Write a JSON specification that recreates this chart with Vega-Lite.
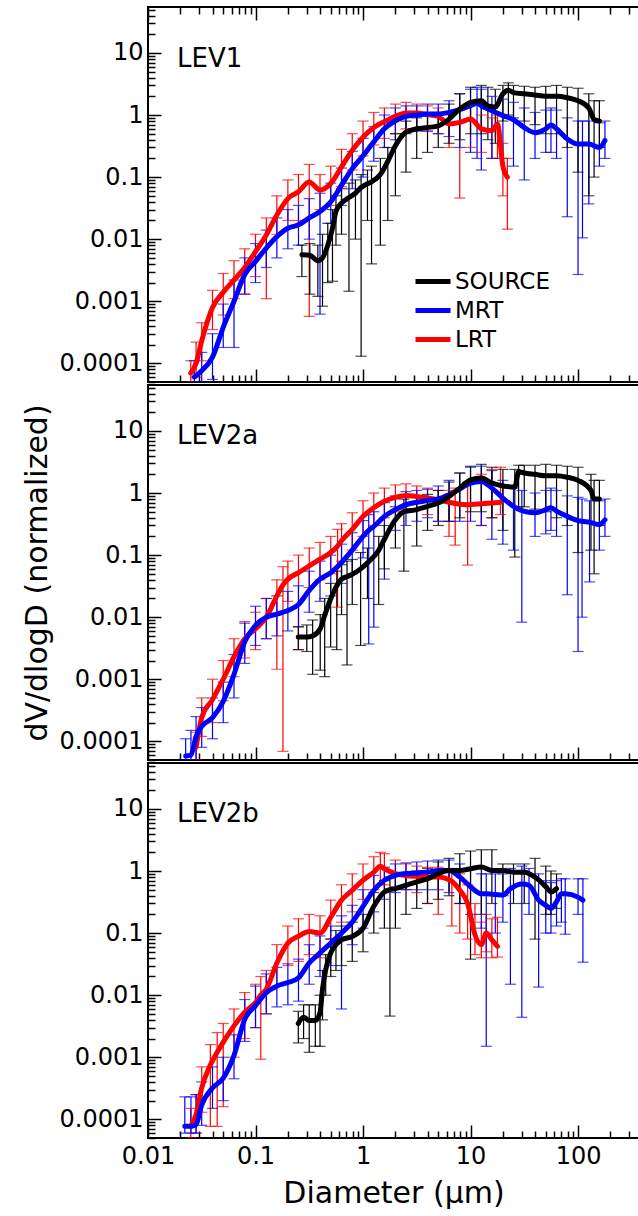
{
  "$schema": "https://vega.github.io/schema/vega-lite/v6.json",
  "padding": {"left": 21, "top": 5, "right": 0, "bottom": 0},
  "background": "white",
  "config": {
    "font": "DejaVu Sans",
    "view": {"stroke": "black", "strokeWidth": 2},
    "axis": {"grid": false, "domain": false, "tickColor": "black", "tickWidth": 1.5, "labelColor": "black", "titleColor": "black", "labelFont": "DejaVu Sans", "titleFont": "DejaVu Sans"}
  },
  "datasets": {
    "d": [
      {"p":"LEV1","s":"LRT","d":0.025,"v":7e-5,"lo":5e-5,"hi":1.1e-4},
      {"p":"LEV1","s":"LRT","d":0.028,"v":1.0e-4,"lo":6e-5,"hi":2.2e-4},
      {"p":"LEV1","s":"LRT","d":0.0316,"v":2.3e-4,"lo":1.1e-4,"hi":4.5e-4},
      {"p":"LEV1","s":"LRT","d":0.0398,"v":7.9e-4,"lo":3.5e-4,"hi":1.5e-3},
      {"p":"LEV1","s":"LRT","d":0.0501,"v":1.4e-3,"lo":6e-4,"hi":2.8e-3},
      {"p":"LEV1","s":"LRT","d":0.0631,"v":2.2e-3,"lo":1.1e-3,"hi":4.5e-3},
      {"p":"LEV1","s":"LRT","d":0.0794,"v":3.5e-3,"lo":1.3e-3,"hi":7e-3},
      {"p":"LEV1","s":"LRT","d":0.1,"v":6.3e-3,"lo":2.5e-3,"hi":0.012},
      {"p":"LEV1","s":"LRT","d":0.126,"v":0.0117,"lo":1.1e-3,"hi":0.022},
      {"p":"LEV1","s":"LRT","d":0.158,"v":0.0245,"lo":0.012,"hi":0.05},
      {"p":"LEV1","s":"LRT","d":0.2,"v":0.045,"lo":0.02,"hi":0.09},
      {"p":"LEV1","s":"LRT","d":0.251,"v":0.058,"lo":0.02,"hi":0.11},
      {"p":"LEV1","s":"LRT","d":0.316,"v":0.083,"lo":5.7e-4,"hi":0.16},
      {"p":"LEV1","s":"LRT","d":0.398,"v":0.062,"lo":0.03,"hi":0.11},
      {"p":"LEV1","s":"LRT","d":0.501,"v":0.079,"lo":0.035,"hi":0.15},
      {"p":"LEV1","s":"LRT","d":0.631,"v":0.146,"lo":0.07,"hi":0.28},
      {"p":"LEV1","s":"LRT","d":0.794,"v":0.27,"lo":0.13,"hi":0.5},
      {"p":"LEV1","s":"LRT","d":1,"v":0.44,"lo":0.22,"hi":0.8},
      {"p":"LEV1","s":"LRT","d":1.26,"v":0.63,"lo":0.33,"hi":1.1},
      {"p":"LEV1","s":"LRT","d":1.58,"v":0.78,"lo":0.42,"hi":1.3},
      {"p":"LEV1","s":"LRT","d":2.0,"v":0.95,"lo":0.5,"hi":1.5},
      {"p":"LEV1","s":"LRT","d":2.51,"v":1.08,"lo":0.6,"hi":1.6},
      {"p":"LEV1","s":"LRT","d":3.16,"v":1.08,"lo":0.6,"hi":1.5},
      {"p":"LEV1","s":"LRT","d":3.98,"v":1.02,"lo":0.55,"hi":1.4},
      {"p":"LEV1","s":"LRT","d":5.01,"v":0.95,"lo":0.5,"hi":1.3},
      {"p":"LEV1","s":"LRT","d":6.31,"v":0.72,"lo":0.3,"hi":1.1},
      {"p":"LEV1","s":"LRT","d":7.94,"v":0.76,"lo":0.046,"hi":1.2},
      {"p":"LEV1","s":"LRT","d":10,"v":0.86,"lo":0.3,"hi":1.4},
      {"p":"LEV1","s":"LRT","d":12.6,"v":0.6,"lo":0.25,"hi":1.0},
      {"p":"LEV1","s":"LRT","d":15.8,"v":0.56,"lo":0.2,"hi":0.9},
      {"p":"LEV1","s":"LRT","d":17.8,"v":0.72,"lo":0.2,"hi":1.0},
      {"p":"LEV1","s":"LRT","d":20,"v":0.15,"lo":0.05,"hi":0.35},
      {"p":"LEV1","s":"LRT","d":22,"v":0.1,"lo":0.0145,"hi":0.2},

      {"p":"LEV1","s":"MRT","d":0.027,"v":6e-5,"lo":5e-5,"hi":1.1e-4},
      {"p":"LEV1","s":"MRT","d":0.0316,"v":7.6e-5,"lo":5e-5,"hi":1.5e-4},
      {"p":"LEV1","s":"MRT","d":0.0398,"v":1.26e-4,"lo":5.5e-5,"hi":3e-4},
      {"p":"LEV1","s":"MRT","d":0.0501,"v":3.8e-4,"lo":1.8e-4,"hi":9e-4},
      {"p":"LEV1","s":"MRT","d":0.0631,"v":1e-3,"lo":1.8e-4,"hi":2.2e-3},
      {"p":"LEV1","s":"MRT","d":0.0794,"v":2.7e-3,"lo":1.3e-3,"hi":5e-3},
      {"p":"LEV1","s":"MRT","d":0.1,"v":4.4e-3,"lo":2e-3,"hi":8.5e-3},
      {"p":"LEV1","s":"MRT","d":0.126,"v":7.2e-3,"lo":3.5e-3,"hi":0.014},
      {"p":"LEV1","s":"MRT","d":0.158,"v":0.011,"lo":5e-3,"hi":0.022},
      {"p":"LEV1","s":"MRT","d":0.2,"v":0.015,"lo":7e-3,"hi":0.03},
      {"p":"LEV1","s":"MRT","d":0.251,"v":0.017,"lo":8e-3,"hi":0.035},
      {"p":"LEV1","s":"MRT","d":0.316,"v":0.022,"lo":0.01,"hi":0.045},
      {"p":"LEV1","s":"MRT","d":0.398,"v":0.028,"lo":6.2e-4,"hi":0.055},
      {"p":"LEV1","s":"MRT","d":0.501,"v":0.04,"lo":0.018,"hi":0.08},
      {"p":"LEV1","s":"MRT","d":0.631,"v":0.074,"lo":0.035,"hi":0.14},
      {"p":"LEV1","s":"MRT","d":0.794,"v":0.137,"lo":0.065,"hi":0.26},
      {"p":"LEV1","s":"MRT","d":1,"v":0.22,"lo":0.1,"hi":0.42},
      {"p":"LEV1","s":"MRT","d":1.26,"v":0.37,"lo":0.18,"hi":0.65},
      {"p":"LEV1","s":"MRT","d":1.58,"v":0.6,"lo":0.3,"hi":1.0},
      {"p":"LEV1","s":"MRT","d":2.0,"v":0.81,"lo":0.4,"hi":1.3},
      {"p":"LEV1","s":"MRT","d":2.51,"v":0.95,"lo":0.5,"hi":1.4},
      {"p":"LEV1","s":"MRT","d":3.16,"v":1.0,"lo":0.55,"hi":1.4},
      {"p":"LEV1","s":"MRT","d":3.98,"v":1.04,"lo":0.55,"hi":1.5},
      {"p":"LEV1","s":"MRT","d":5.01,"v":1.04,"lo":0.5,"hi":1.5},
      {"p":"LEV1","s":"MRT","d":6.31,"v":1.1,"lo":0.45,"hi":1.7},
      {"p":"LEV1","s":"MRT","d":7.94,"v":1.22,"lo":0.3,"hi":2.2},
      {"p":"LEV1","s":"MRT","d":10,"v":1.41,"lo":0.25,"hi":2.6},
      {"p":"LEV1","s":"MRT","d":11.5,"v":1.56,"lo":0.2,"hi":2.8},
      {"p":"LEV1","s":"MRT","d":12.6,"v":1.41,"lo":0.13,"hi":2.6},
      {"p":"LEV1","s":"MRT","d":15.8,"v":1.17,"lo":0.2,"hi":2.0},
      {"p":"LEV1","s":"MRT","d":20,"v":0.98,"lo":0.2,"hi":1.8},
      {"p":"LEV1","s":"MRT","d":25.1,"v":0.84,"lo":0.15,"hi":1.6},
      {"p":"LEV1","s":"MRT","d":31.6,"v":0.63,"lo":0.09,"hi":1.3},
      {"p":"LEV1","s":"MRT","d":39.8,"v":0.52,"lo":0.2,"hi":1.1},
      {"p":"LEV1","s":"MRT","d":50.1,"v":0.6,"lo":0.25,"hi":1.2},
      {"p":"LEV1","s":"MRT","d":56,"v":0.69,"lo":0.25,"hi":1.3},
      {"p":"LEV1","s":"MRT","d":63.1,"v":0.6,"lo":0.2,"hi":1.2},
      {"p":"LEV1","s":"MRT","d":79.4,"v":0.41,"lo":0.023,"hi":0.9},
      {"p":"LEV1","s":"MRT","d":100,"v":0.34,"lo":2.7e-3,"hi":0.8},
      {"p":"LEV1","s":"MRT","d":110,"v":0.34,"lo":0.0105,"hi":0.8},
      {"p":"LEV1","s":"MRT","d":126,"v":0.34,"lo":0.037,"hi":0.8},
      {"p":"LEV1","s":"MRT","d":158,"v":0.3,"lo":0.15,"hi":0.75},
      {"p":"LEV1","s":"MRT","d":178,"v":0.39,"lo":0.2,"hi":0.8},

      {"p":"LEV1","s":"SOURCE","d":0.27,"v":5.6e-3,"lo":2.5e-3,"hi":8e-3},
      {"p":"LEV1","s":"SOURCE","d":0.32,"v":5.5e-3,"lo":1.3e-3,"hi":8.5e-3},
      {"p":"LEV1","s":"SOURCE","d":0.38,"v":4.5e-3,"lo":1.2e-3,"hi":8e-3},
      {"p":"LEV1","s":"SOURCE","d":0.42,"v":5e-3,"lo":8.3e-4,"hi":0.012},
      {"p":"LEV1","s":"SOURCE","d":0.47,"v":8e-3,"lo":2e-3,"hi":0.018},
      {"p":"LEV1","s":"SOURCE","d":0.52,"v":0.015,"lo":2.1e-3,"hi":0.03},
      {"p":"LEV1","s":"SOURCE","d":0.56,"v":0.028,"lo":8e-3,"hi":0.05},
      {"p":"LEV1","s":"SOURCE","d":0.631,"v":0.038,"lo":0.012,"hi":0.065},
      {"p":"LEV1","s":"SOURCE","d":0.74,"v":0.047,"lo":1.45e-3,"hi":0.08},
      {"p":"LEV1","s":"SOURCE","d":0.85,"v":0.055,"lo":0.01,"hi":0.09},
      {"p":"LEV1","s":"SOURCE","d":0.96,"v":0.068,"lo":1.3e-4,"hi":0.11},
      {"p":"LEV1","s":"SOURCE","d":1.1,"v":0.078,"lo":0.02,"hi":0.13},
      {"p":"LEV1","s":"SOURCE","d":1.2,"v":0.084,"lo":4e-3,"hi":0.15},
      {"p":"LEV1","s":"SOURCE","d":1.45,"v":0.11,"lo":8e-3,"hi":0.2},
      {"p":"LEV1","s":"SOURCE","d":1.7,"v":0.18,"lo":0.02,"hi":0.3},
      {"p":"LEV1","s":"SOURCE","d":2.0,"v":0.32,"lo":0.05,"hi":0.5},
      {"p":"LEV1","s":"SOURCE","d":2.51,"v":0.53,"lo":0.12,"hi":0.8},
      {"p":"LEV1","s":"SOURCE","d":3.16,"v":0.6,"lo":0.2,"hi":0.9},
      {"p":"LEV1","s":"SOURCE","d":3.98,"v":0.63,"lo":0.25,"hi":1.0},
      {"p":"LEV1","s":"SOURCE","d":5.01,"v":0.67,"lo":0.3,"hi":1.1},
      {"p":"LEV1","s":"SOURCE","d":6.31,"v":0.86,"lo":0.35,"hi":1.5},
      {"p":"LEV1","s":"SOURCE","d":7.94,"v":1.25,"lo":0.4,"hi":2.2},
      {"p":"LEV1","s":"SOURCE","d":10,"v":1.6,"lo":0.5,"hi":2.8},
      {"p":"LEV1","s":"SOURCE","d":12.6,"v":1.7,"lo":0.5,"hi":3.0},
      {"p":"LEV1","s":"SOURCE","d":14.5,"v":1.4,"lo":0.4,"hi":2.8},
      {"p":"LEV1","s":"SOURCE","d":17,"v":1.35,"lo":0.35,"hi":2.6},
      {"p":"LEV1","s":"SOURCE","d":20,"v":2.2,"lo":0.8,"hi":3.0},
      {"p":"LEV1","s":"SOURCE","d":22.5,"v":2.5,"lo":1.0,"hi":3.3},
      {"p":"LEV1","s":"SOURCE","d":25.1,"v":2.3,"lo":0.9,"hi":3.0},
      {"p":"LEV1","s":"SOURCE","d":31.6,"v":2.2,"lo":0.8,"hi":2.9},
      {"p":"LEV1","s":"SOURCE","d":39.8,"v":2.1,"lo":0.7,"hi":2.8},
      {"p":"LEV1","s":"SOURCE","d":50.1,"v":2.0,"lo":0.5,"hi":2.9},
      {"p":"LEV1","s":"SOURCE","d":63.1,"v":2.0,"lo":0.5,"hi":3.0},
      {"p":"LEV1","s":"SOURCE","d":79.4,"v":1.9,"lo":0.3,"hi":2.8},
      {"p":"LEV1","s":"SOURCE","d":100,"v":1.7,"lo":0.12,"hi":2.7},
      {"p":"LEV1","s":"SOURCE","d":126,"v":1.3,"lo":0.05,"hi":2.2},
      {"p":"LEV1","s":"SOURCE","d":141,"v":0.85,"lo":0.1,"hi":1.7},
      {"p":"LEV1","s":"SOURCE","d":158,"v":0.8,"lo":0.3,"hi":1.7},

      {"p":"LEV2a","s":"LRT","d":0.028,"v":8e-5,"lo":5e-5,"hi":1.4e-4},
      {"p":"LEV2a","s":"LRT","d":0.0316,"v":2.4e-4,"lo":1.2e-4,"hi":5e-4},
      {"p":"LEV2a","s":"LRT","d":0.0398,"v":4.7e-4,"lo":2e-4,"hi":1e-3},
      {"p":"LEV2a","s":"LRT","d":0.0501,"v":1.0e-3,"lo":4.5e-4,"hi":2e-3},
      {"p":"LEV2a","s":"LRT","d":0.0631,"v":2.3e-3,"lo":1.1e-3,"hi":4.5e-3},
      {"p":"LEV2a","s":"LRT","d":0.0794,"v":4.5e-3,"lo":2.2e-3,"hi":8.5e-3},
      {"p":"LEV2a","s":"LRT","d":0.1,"v":6.5e-3,"lo":3e-3,"hi":0.012},
      {"p":"LEV2a","s":"LRT","d":0.126,"v":0.01,"lo":4.5e-3,"hi":0.02},
      {"p":"LEV2a","s":"LRT","d":0.158,"v":0.022,"lo":1.45e-3,"hi":0.04},
      {"p":"LEV2a","s":"LRT","d":0.18,"v":0.033,"lo":6.9e-5,"hi":0.065},
      {"p":"LEV2a","s":"LRT","d":0.2,"v":0.041,"lo":0.018,"hi":0.08},
      {"p":"LEV2a","s":"LRT","d":0.251,"v":0.052,"lo":3e-3,"hi":0.1},
      {"p":"LEV2a","s":"LRT","d":0.316,"v":0.067,"lo":0.03,"hi":0.13},
      {"p":"LEV2a","s":"LRT","d":0.398,"v":0.086,"lo":0.04,"hi":0.16},
      {"p":"LEV2a","s":"LRT","d":0.501,"v":0.11,"lo":0.05,"hi":0.2},
      {"p":"LEV2a","s":"LRT","d":0.58,"v":0.14,"lo":0.0145,"hi":0.26},
      {"p":"LEV2a","s":"LRT","d":0.631,"v":0.17,"lo":0.08,"hi":0.32},
      {"p":"LEV2a","s":"LRT","d":0.794,"v":0.26,"lo":0.12,"hi":0.48},
      {"p":"LEV2a","s":"LRT","d":1,"v":0.42,"lo":0.2,"hi":0.75},
      {"p":"LEV2a","s":"LRT","d":1.26,"v":0.58,"lo":0.3,"hi":1.0},
      {"p":"LEV2a","s":"LRT","d":1.58,"v":0.74,"lo":0.4,"hi":1.2},
      {"p":"LEV2a","s":"LRT","d":2.0,"v":0.85,"lo":0.5,"hi":1.35},
      {"p":"LEV2a","s":"LRT","d":2.51,"v":0.91,"lo":0.55,"hi":1.4},
      {"p":"LEV2a","s":"LRT","d":3.16,"v":0.88,"lo":0.55,"hi":1.3},
      {"p":"LEV2a","s":"LRT","d":3.98,"v":0.83,"lo":0.45,"hi":1.2},
      {"p":"LEV2a","s":"LRT","d":5.01,"v":0.78,"lo":0.35,"hi":1.1},
      {"p":"LEV2a","s":"LRT","d":6.31,"v":0.71,"lo":0.2,"hi":1.1},
      {"p":"LEV2a","s":"LRT","d":7.2,"v":0.68,"lo":0.145,"hi":1.2},
      {"p":"LEV2a","s":"LRT","d":9.4,"v":0.65,"lo":0.069,"hi":1.5},
      {"p":"LEV2a","s":"LRT","d":12.6,"v":0.67,"lo":0.3,"hi":2.0},
      {"p":"LEV2a","s":"LRT","d":15.8,"v":0.69,"lo":0.4,"hi":2.4},
      {"p":"LEV2a","s":"LRT","d":19,"v":0.71,"lo":0.45,"hi":2.6},

      {"p":"LEV2a","s":"MRT","d":0.0224,"v":5.8e-5,"lo":5e-5,"hi":1.1e-4},
      {"p":"LEV2a","s":"MRT","d":0.0251,"v":6e-5,"lo":5e-5,"hi":1.5e-4},
      {"p":"LEV2a","s":"MRT","d":0.028,"v":1.2e-4,"lo":5e-5,"hi":2.5e-4},
      {"p":"LEV2a","s":"MRT","d":0.0316,"v":1.74e-4,"lo":8e-5,"hi":3.5e-4},
      {"p":"LEV2a","s":"MRT","d":0.0398,"v":2.4e-4,"lo":1.1e-4,"hi":5e-4},
      {"p":"LEV2a","s":"MRT","d":0.0501,"v":4.4e-4,"lo":2e-4,"hi":9e-4},
      {"p":"LEV2a","s":"MRT","d":0.0631,"v":1.2e-3,"lo":5e-4,"hi":2.5e-3},
      {"p":"LEV2a","s":"MRT","d":0.0794,"v":4e-3,"lo":1.8e-3,"hi":8e-3},
      {"p":"LEV2a","s":"MRT","d":0.1,"v":7.4e-3,"lo":3.5e-3,"hi":0.015},
      {"p":"LEV2a","s":"MRT","d":0.126,"v":0.01,"lo":4.5e-3,"hi":0.02},
      {"p":"LEV2a","s":"MRT","d":0.158,"v":0.0112,"lo":5e-3,"hi":0.022},
      {"p":"LEV2a","s":"MRT","d":0.2,"v":0.0128,"lo":6e-3,"hi":0.026},
      {"p":"LEV2a","s":"MRT","d":0.251,"v":0.016,"lo":7e-3,"hi":0.032},
      {"p":"LEV2a","s":"MRT","d":0.316,"v":0.027,"lo":0.012,"hi":0.055},
      {"p":"LEV2a","s":"MRT","d":0.398,"v":0.041,"lo":0.018,"hi":0.08},
      {"p":"LEV2a","s":"MRT","d":0.501,"v":0.052,"lo":0.022,"hi":0.1},
      {"p":"LEV2a","s":"MRT","d":0.631,"v":0.076,"lo":0.035,"hi":0.15},
      {"p":"LEV2a","s":"MRT","d":0.794,"v":0.12,"lo":0.05,"hi":0.23},
      {"p":"LEV2a","s":"MRT","d":1,"v":0.2,"lo":0.09,"hi":0.36},
      {"p":"LEV2a","s":"MRT","d":1.13,"v":0.25,"lo":3.7e-3,"hi":0.45},
      {"p":"LEV2a","s":"MRT","d":1.26,"v":0.29,"lo":6.9e-3,"hi":0.5},
      {"p":"LEV2a","s":"MRT","d":1.58,"v":0.42,"lo":0.041,"hi":0.7},
      {"p":"LEV2a","s":"MRT","d":2.0,"v":0.54,"lo":0.25,"hi":0.9},
      {"p":"LEV2a","s":"MRT","d":2.51,"v":0.65,"lo":0.3,"hi":1.05},
      {"p":"LEV2a","s":"MRT","d":3.16,"v":0.71,"lo":0.35,"hi":1.1},
      {"p":"LEV2a","s":"MRT","d":3.98,"v":0.76,"lo":0.4,"hi":1.15},
      {"p":"LEV2a","s":"MRT","d":5.01,"v":0.8,"lo":0.35,"hi":1.3},
      {"p":"LEV2a","s":"MRT","d":6.31,"v":0.94,"lo":0.35,"hi":1.6},
      {"p":"LEV2a","s":"MRT","d":7.94,"v":1.16,"lo":0.35,"hi":2.1},
      {"p":"LEV2a","s":"MRT","d":10,"v":1.45,"lo":0.35,"hi":2.6},
      {"p":"LEV2a","s":"MRT","d":12.6,"v":1.54,"lo":0.3,"hi":2.7},
      {"p":"LEV2a","s":"MRT","d":15.8,"v":1.2,"lo":0.18,"hi":2.3},
      {"p":"LEV2a","s":"MRT","d":20,"v":0.83,"lo":0.15,"hi":1.6},
      {"p":"LEV2a","s":"MRT","d":25.1,"v":0.61,"lo":0.12,"hi":1.2},
      {"p":"LEV2a","s":"MRT","d":30,"v":0.52,"lo":8.3e-3,"hi":1.1},
      {"p":"LEV2a","s":"MRT","d":39.8,"v":0.48,"lo":0.2,"hi":1.0},
      {"p":"LEV2a","s":"MRT","d":50.1,"v":0.54,"lo":0.22,"hi":1.1},
      {"p":"LEV2a","s":"MRT","d":56,"v":0.58,"lo":0.25,"hi":1.2},
      {"p":"LEV2a","s":"MRT","d":63.1,"v":0.51,"lo":0.2,"hi":1.1},
      {"p":"LEV2a","s":"MRT","d":79.4,"v":0.42,"lo":0.023,"hi":0.9},
      {"p":"LEV2a","s":"MRT","d":100,"v":0.36,"lo":2.8e-3,"hi":0.85},
      {"p":"LEV2a","s":"MRT","d":109,"v":0.35,"lo":0.01,"hi":0.8},
      {"p":"LEV2a","s":"MRT","d":128,"v":0.34,"lo":0.037,"hi":0.75},
      {"p":"LEV2a","s":"MRT","d":158,"v":0.31,"lo":0.12,"hi":0.75},
      {"p":"LEV2a","s":"MRT","d":178,"v":0.37,"lo":0.2,"hi":0.8},

      {"p":"LEV2a","s":"SOURCE","d":0.25,"v":4.8e-3,"lo":3e-3,"hi":7e-3},
      {"p":"LEV2a","s":"SOURCE","d":0.3,"v":4.8e-3,"lo":2.8e-3,"hi":7.5e-3},
      {"p":"LEV2a","s":"SOURCE","d":0.34,"v":5e-3,"lo":1.2e-3,"hi":9e-3},
      {"p":"LEV2a","s":"SOURCE","d":0.4,"v":6.5e-3,"lo":1.4e-3,"hi":0.011},
      {"p":"LEV2a","s":"SOURCE","d":0.44,"v":0.0107,"lo":1.1e-3,"hi":0.02},
      {"p":"LEV2a","s":"SOURCE","d":0.5,"v":0.0196,"lo":3.3e-3,"hi":0.035},
      {"p":"LEV2a","s":"SOURCE","d":0.57,"v":0.032,"lo":3e-3,"hi":0.055},
      {"p":"LEV2a","s":"SOURCE","d":0.631,"v":0.041,"lo":0.011,"hi":0.07},
      {"p":"LEV2a","s":"SOURCE","d":0.71,"v":0.045,"lo":1.7e-3,"hi":0.08},
      {"p":"LEV2a","s":"SOURCE","d":0.794,"v":0.049,"lo":0.016,"hi":0.085},
      {"p":"LEV2a","s":"SOURCE","d":0.95,"v":0.06,"lo":3.5e-3,"hi":0.11},
      {"p":"LEV2a","s":"SOURCE","d":1.1,"v":0.075,"lo":0.02,"hi":0.13},
      {"p":"LEV2a","s":"SOURCE","d":1.4,"v":0.12,"lo":0.016,"hi":0.2},
      {"p":"LEV2a","s":"SOURCE","d":1.58,"v":0.18,"lo":0.06,"hi":0.3},
      {"p":"LEV2a","s":"SOURCE","d":2.0,"v":0.37,"lo":0.13,"hi":0.6},
      {"p":"LEV2a","s":"SOURCE","d":2.4,"v":0.5,"lo":0.055,"hi":0.8},
      {"p":"LEV2a","s":"SOURCE","d":3.16,"v":0.54,"lo":0.14,"hi":0.85},
      {"p":"LEV2a","s":"SOURCE","d":3.98,"v":0.61,"lo":0.25,"hi":0.95},
      {"p":"LEV2a","s":"SOURCE","d":5.01,"v":0.69,"lo":0.3,"hi":1.1},
      {"p":"LEV2a","s":"SOURCE","d":6.31,"v":0.88,"lo":0.35,"hi":1.5},
      {"p":"LEV2a","s":"SOURCE","d":7.94,"v":1.2,"lo":0.4,"hi":2.1},
      {"p":"LEV2a","s":"SOURCE","d":10,"v":1.63,"lo":0.5,"hi":2.7},
      {"p":"LEV2a","s":"SOURCE","d":12.6,"v":1.74,"lo":0.5,"hi":2.9},
      {"p":"LEV2a","s":"SOURCE","d":15.8,"v":1.45,"lo":0.4,"hi":2.6},
      {"p":"LEV2a","s":"SOURCE","d":20,"v":1.3,"lo":0.25,"hi":2.4},
      {"p":"LEV2a","s":"SOURCE","d":25.8,"v":1.25,"lo":0.093,"hi":2.4},
      {"p":"LEV2a","s":"SOURCE","d":28,"v":2.2,"lo":0.6,"hi":2.8},
      {"p":"LEV2a","s":"SOURCE","d":31.6,"v":2.1,"lo":0.6,"hi":2.8},
      {"p":"LEV2a","s":"SOURCE","d":39.8,"v":2.0,"lo":0.55,"hi":2.8},
      {"p":"LEV2a","s":"SOURCE","d":50.1,"v":1.9,"lo":0.5,"hi":2.9},
      {"p":"LEV2a","s":"SOURCE","d":63.1,"v":1.9,"lo":0.4,"hi":2.8},
      {"p":"LEV2a","s":"SOURCE","d":79.4,"v":1.8,"lo":0.3,"hi":2.7},
      {"p":"LEV2a","s":"SOURCE","d":100,"v":1.6,"lo":0.11,"hi":2.6},
      {"p":"LEV2a","s":"SOURCE","d":132,"v":1.1,"lo":0.12,"hi":2.0},
      {"p":"LEV2a","s":"SOURCE","d":141,"v":0.8,"lo":0.05,"hi":1.6},
      {"p":"LEV2a","s":"SOURCE","d":158,"v":0.8,"lo":0.3,"hi":1.6},

      {"p":"LEV2b","s":"LRT","d":0.025,"v":7.7e-5,"lo":5e-5,"hi":1.5e-4},
      {"p":"LEV2b","s":"LRT","d":0.028,"v":1.2e-4,"lo":6e-5,"hi":2.5e-4},
      {"p":"LEV2b","s":"LRT","d":0.0316,"v":3.2e-4,"lo":1.3e-4,"hi":7e-4},
      {"p":"LEV2b","s":"LRT","d":0.038,"v":7.5e-4,"lo":7.7e-5,"hi":1.6e-3},
      {"p":"LEV2b","s":"LRT","d":0.044,"v":1.2e-3,"lo":7.7e-5,"hi":2.5e-3},
      {"p":"LEV2b","s":"LRT","d":0.0501,"v":1.75e-3,"lo":1.6e-4,"hi":3.5e-3},
      {"p":"LEV2b","s":"LRT","d":0.0631,"v":3.2e-3,"lo":1e-3,"hi":6e-3},
      {"p":"LEV2b","s":"LRT","d":0.0794,"v":5.3e-3,"lo":2e-3,"hi":0.011},
      {"p":"LEV2b","s":"LRT","d":0.1,"v":7.6e-3,"lo":3e-3,"hi":0.015},
      {"p":"LEV2b","s":"LRT","d":0.112,"v":0.01,"lo":9.3e-4,"hi":0.02},
      {"p":"LEV2b","s":"LRT","d":0.126,"v":0.0125,"lo":5e-3,"hi":0.025},
      {"p":"LEV2b","s":"LRT","d":0.158,"v":0.033,"lo":0.014,"hi":0.065},
      {"p":"LEV2b","s":"LRT","d":0.2,"v":0.069,"lo":0.03,"hi":0.13},
      {"p":"LEV2b","s":"LRT","d":0.251,"v":0.089,"lo":0.035,"hi":0.17},
      {"p":"LEV2b","s":"LRT","d":0.316,"v":0.106,"lo":0.045,"hi":0.2},
      {"p":"LEV2b","s":"LRT","d":0.398,"v":0.1,"lo":0.04,"hi":0.19},
      {"p":"LEV2b","s":"LRT","d":0.501,"v":0.18,"lo":0.08,"hi":0.34},
      {"p":"LEV2b","s":"LRT","d":0.631,"v":0.34,"lo":0.15,"hi":0.6},
      {"p":"LEV2b","s":"LRT","d":0.794,"v":0.49,"lo":0.22,"hi":0.9},
      {"p":"LEV2b","s":"LRT","d":1,"v":0.71,"lo":0.35,"hi":1.3},
      {"p":"LEV2b","s":"LRT","d":1.26,"v":0.96,"lo":0.5,"hi":1.7},
      {"p":"LEV2b","s":"LRT","d":1.45,"v":1.19,"lo":0.6,"hi":2.0},
      {"p":"LEV2b","s":"LRT","d":1.58,"v":1.09,"lo":0.6,"hi":1.9},
      {"p":"LEV2b","s":"LRT","d":2.0,"v":0.91,"lo":0.55,"hi":1.5},
      {"p":"LEV2b","s":"LRT","d":2.51,"v":0.85,"lo":0.5,"hi":1.3},
      {"p":"LEV2b","s":"LRT","d":3.16,"v":0.82,"lo":0.45,"hi":1.2},
      {"p":"LEV2b","s":"LRT","d":3.98,"v":0.8,"lo":0.3,"hi":1.15},
      {"p":"LEV2b","s":"LRT","d":5.01,"v":0.8,"lo":0.2,"hi":1.15},
      {"p":"LEV2b","s":"LRT","d":6.7,"v":0.68,"lo":0.13,"hi":1.1},
      {"p":"LEV2b","s":"LRT","d":7.94,"v":0.49,"lo":0.1,"hi":0.9},
      {"p":"LEV2b","s":"LRT","d":9.4,"v":0.3,"lo":0.08,"hi":0.6},
      {"p":"LEV2b","s":"LRT","d":11,"v":0.094,"lo":0.045,"hi":0.3},
      {"p":"LEV2b","s":"LRT","d":12.6,"v":0.065,"lo":0.04,"hi":0.15},
      {"p":"LEV2b","s":"LRT","d":14,"v":0.1,"lo":0.05,"hi":0.2},
      {"p":"LEV2b","s":"LRT","d":15.8,"v":0.078,"lo":0.04,"hi":0.17},
      {"p":"LEV2b","s":"LRT","d":17.8,"v":0.061,"lo":0.041,"hi":0.18},

      {"p":"LEV2b","s":"MRT","d":0.022,"v":7.7e-5,"lo":6e-5,"hi":2.3e-4},
      {"p":"LEV2b","s":"MRT","d":0.0251,"v":7.7e-5,"lo":6e-5,"hi":2.3e-4},
      {"p":"LEV2b","s":"MRT","d":0.028,"v":8.2e-5,"lo":6e-5,"hi":2.5e-4},
      {"p":"LEV2b","s":"MRT","d":0.0316,"v":1.7e-4,"lo":8e-5,"hi":4e-4},
      {"p":"LEV2b","s":"MRT","d":0.0398,"v":3.2e-4,"lo":1.5e-4,"hi":7e-4},
      {"p":"LEV2b","s":"MRT","d":0.0501,"v":4.6e-4,"lo":2e-4,"hi":1e-3},
      {"p":"LEV2b","s":"MRT","d":0.0631,"v":1.07e-3,"lo":4.5e-4,"hi":2.3e-3},
      {"p":"LEV2b","s":"MRT","d":0.0794,"v":4.1e-3,"lo":1.8e-3,"hi":8.5e-3},
      {"p":"LEV2b","s":"MRT","d":0.1,"v":6.8e-3,"lo":3e-3,"hi":0.014},
      {"p":"LEV2b","s":"MRT","d":0.126,"v":0.011,"lo":5e-3,"hi":0.022},
      {"p":"LEV2b","s":"MRT","d":0.158,"v":0.014,"lo":6.5e-3,"hi":0.028},
      {"p":"LEV2b","s":"MRT","d":0.2,"v":0.016,"lo":7e-3,"hi":0.032},
      {"p":"LEV2b","s":"MRT","d":0.251,"v":0.019,"lo":8e-3,"hi":0.038},
      {"p":"LEV2b","s":"MRT","d":0.316,"v":0.033,"lo":0.015,"hi":0.065},
      {"p":"LEV2b","s":"MRT","d":0.398,"v":0.048,"lo":0.02,"hi":0.09},
      {"p":"LEV2b","s":"MRT","d":0.501,"v":0.069,"lo":0.03,"hi":0.13},
      {"p":"LEV2b","s":"MRT","d":0.631,"v":0.1,"lo":6e-3,"hi":0.19},
      {"p":"LEV2b","s":"MRT","d":0.794,"v":0.15,"lo":0.065,"hi":0.28},
      {"p":"LEV2b","s":"MRT","d":1,"v":0.27,"lo":0.12,"hi":0.5},
      {"p":"LEV2b","s":"MRT","d":1.26,"v":0.49,"lo":0.22,"hi":0.85},
      {"p":"LEV2b","s":"MRT","d":1.58,"v":0.71,"lo":0.35,"hi":1.15},
      {"p":"LEV2b","s":"MRT","d":2.0,"v":0.85,"lo":0.45,"hi":1.3},
      {"p":"LEV2b","s":"MRT","d":2.51,"v":0.91,"lo":0.5,"hi":1.35},
      {"p":"LEV2b","s":"MRT","d":3.16,"v":0.93,"lo":0.5,"hi":1.4},
      {"p":"LEV2b","s":"MRT","d":3.98,"v":0.96,"lo":0.5,"hi":1.45},
      {"p":"LEV2b","s":"MRT","d":5.01,"v":1.02,"lo":0.5,"hi":1.5},
      {"p":"LEV2b","s":"MRT","d":6.31,"v":1.02,"lo":0.45,"hi":1.5},
      {"p":"LEV2b","s":"MRT","d":7.94,"v":0.8,"lo":0.3,"hi":1.3},
      {"p":"LEV2b","s":"MRT","d":10,"v":0.56,"lo":0.2,"hi":1.1},
      {"p":"LEV2b","s":"MRT","d":12.6,"v":0.43,"lo":0.12,"hi":0.9},
      {"p":"LEV2b","s":"MRT","d":14,"v":0.43,"lo":1.5e-3,"hi":0.9},
      {"p":"LEV2b","s":"MRT","d":17,"v":0.42,"lo":0.1,"hi":0.9},
      {"p":"LEV2b","s":"MRT","d":20,"v":0.41,"lo":0.15,"hi":0.9},
      {"p":"LEV2b","s":"MRT","d":23.5,"v":0.52,"lo":0.015,"hi":1.1},
      {"p":"LEV2b","s":"MRT","d":30,"v":0.62,"lo":4.4e-3,"hi":1.2},
      {"p":"LEV2b","s":"MRT","d":35,"v":0.59,"lo":0.2,"hi":1.1},
      {"p":"LEV2b","s":"MRT","d":43,"v":0.34,"lo":0.0135,"hi":0.9},
      {"p":"LEV2b","s":"MRT","d":50.1,"v":0.28,"lo":0.1,"hi":0.7},
      {"p":"LEV2b","s":"MRT","d":56,"v":0.25,"lo":0.1,"hi":0.65},
      {"p":"LEV2b","s":"MRT","d":63.1,"v":0.32,"lo":0.13,"hi":0.7},
      {"p":"LEV2b","s":"MRT","d":70,"v":0.43,"lo":0.15,"hi":0.75},
      {"p":"LEV2b","s":"MRT","d":76,"v":0.43,"lo":0.096,"hi":0.75},
      {"p":"LEV2b","s":"MRT","d":100,"v":0.38,"lo":0.2,"hi":0.75},
      {"p":"LEV2b","s":"MRT","d":111,"v":0.34,"lo":0.034,"hi":0.75},

      {"p":"LEV2b","s":"SOURCE","d":0.25,"v":3.5e-3,"lo":1.7e-3,"hi":5.5e-3},
      {"p":"LEV2b","s":"SOURCE","d":0.28,"v":4.4e-3,"lo":2e-3,"hi":7e-3},
      {"p":"LEV2b","s":"SOURCE","d":0.316,"v":3.9e-3,"lo":1.2e-3,"hi":7e-3},
      {"p":"LEV2b","s":"SOURCE","d":0.36,"v":3.9e-3,"lo":1.5e-3,"hi":7e-3},
      {"p":"LEV2b","s":"SOURCE","d":0.398,"v":5.2e-3,"lo":1.5e-3,"hi":0.01},
      {"p":"LEV2b","s":"SOURCE","d":0.42,"v":0.0125,"lo":4e-3,"hi":0.025},
      {"p":"LEV2b","s":"SOURCE","d":0.45,"v":0.026,"lo":0.01,"hi":0.045},
      {"p":"LEV2b","s":"SOURCE","d":0.501,"v":0.048,"lo":0.02,"hi":0.08},
      {"p":"LEV2b","s":"SOURCE","d":0.56,"v":0.065,"lo":0.025,"hi":0.11},
      {"p":"LEV2b","s":"SOURCE","d":0.631,"v":0.078,"lo":0.03,"hi":0.13},
      {"p":"LEV2b","s":"SOURCE","d":0.794,"v":0.088,"lo":0.035,"hi":0.15},
      {"p":"LEV2b","s":"SOURCE","d":1,"v":0.12,"lo":0.05,"hi":0.2},
      {"p":"LEV2b","s":"SOURCE","d":1.26,"v":0.27,"lo":0.1,"hi":0.45},
      {"p":"LEV2b","s":"SOURCE","d":1.58,"v":0.46,"lo":0.12,"hi":0.7},
      {"p":"LEV2b","s":"SOURCE","d":1.78,"v":0.5,"lo":4.6e-3,"hi":0.8},
      {"p":"LEV2b","s":"SOURCE","d":2.0,"v":0.52,"lo":0.12,"hi":0.85},
      {"p":"LEV2b","s":"SOURCE","d":2.51,"v":0.59,"lo":0.2,"hi":0.9},
      {"p":"LEV2b","s":"SOURCE","d":3.16,"v":0.67,"lo":0.25,"hi":1.0},
      {"p":"LEV2b","s":"SOURCE","d":3.98,"v":0.75,"lo":0.3,"hi":1.1},
      {"p":"LEV2b","s":"SOURCE","d":5.01,"v":0.91,"lo":0.35,"hi":1.4},
      {"p":"LEV2b","s":"SOURCE","d":6.31,"v":1.02,"lo":0.4,"hi":1.6},
      {"p":"LEV2b","s":"SOURCE","d":7.94,"v":1.02,"lo":0.3,"hi":1.9},
      {"p":"LEV2b","s":"SOURCE","d":10,"v":1.09,"lo":0.038,"hi":2.1},
      {"p":"LEV2b","s":"SOURCE","d":12.6,"v":1.16,"lo":0.2,"hi":2.2},
      {"p":"LEV2b","s":"SOURCE","d":15.8,"v":1.02,"lo":0.3,"hi":2.2},
      {"p":"LEV2b","s":"SOURCE","d":20,"v":1.02,"lo":0.4,"hi":1.3},
      {"p":"LEV2b","s":"SOURCE","d":25.1,"v":0.96,"lo":0.3,"hi":1.3},
      {"p":"LEV2b","s":"SOURCE","d":31.6,"v":0.96,"lo":0.3,"hi":1.3},
      {"p":"LEV2b","s":"SOURCE","d":39.8,"v":0.8,"lo":0.08,"hi":1.6},
      {"p":"LEV2b","s":"SOURCE","d":50.1,"v":0.56,"lo":0.2,"hi":1.2},
      {"p":"LEV2b","s":"SOURCE","d":56,"v":0.46,"lo":0.2,"hi":1.0},
      {"p":"LEV2b","s":"SOURCE","d":63.1,"v":0.52,"lo":0.25,"hi":0.9}
    ],
    "lab1": [{"label": "LEV1"}],
    "lab2": [{"label": "LEV2a"}],
    "lab3": [{"label": "LEV2b"}]
  },
  "spacing": 0,
  "resolve": {"legend": {"color": "independent"}},
  "vconcat": [
    {
      "width": 491, "height": 375,
      "resolve": {"axis": {"x": "independent", "y": "independent"}, "legend": {"color": "independent"}},
      "layer": [
        {
          "data": {"name": "d"},
          "transform": [{"filter": "datum.p == 'LEV1'"}],
          "mark": {"type": "rule", "strokeWidth": 1.2, "clip": true},
          "encoding": {
            "x": {"field": "d", "type": "quantitative", "scale": {"type": "log", "domain": [0.01, 369]},
              "axis": {"orient": "bottom", "values": [0.01,0.02,0.03,0.04,0.05,0.06,0.07,0.08,0.09,0.1,0.2,0.3,0.4,0.5,0.6,0.7,0.8,0.9,1,2,3,4,5,6,7,8,9,10,20,30,40,50,60,70,80,90,100,200,300], "labels": false, "title": null, "tickSize": {"condition": {"test": "indexof([0.01,0.1,1,10,100], datum.value) >= 0", "value": -13}, "value": -7}}},
            "y": {"field": "lo", "type": "quantitative", "scale": {"type": "log", "domain": [5e-5, 55]},
              "axis": {"orient": "left", "values": [5e-5,6e-5,7e-5,8e-5,9e-5,1e-4,2e-4,3e-4,4e-4,5e-4,6e-4,7e-4,8e-4,9e-4,0.001,0.002,0.003,0.004,0.005,0.006,0.007,0.008,0.009,0.01,0.02,0.03,0.04,0.05,0.06,0.07,0.08,0.09,0.1,0.2,0.3,0.4,0.5,0.6,0.7,0.8,0.9,1,2,3,4,5,6,7,8,9,10,20,30,40,50], "labelExpr": "indexof([0.0001,0.001,0.01,0.1,1,10], datum.value) >= 0 ? format(datum.value, '~g') : ''", "labelFontSize": {"condition": {"test": "indexof([0.0001,0.001,0.01,0.1,1,10], datum.value) >= 0", "value": 24}, "value": 0}, "labelPadding": 18, "labelOverlap": false, "labelBound": false, "labelFlush": false, "tickSize": {"condition": {"test": "indexof([0.0001,0.001,0.01,0.1,1,10], datum.value) >= 0", "value": -13}, "value": -7}, "title": "dV/dlogD (normalized)", "titleFontSize": 30, "titleFontWeight": "normal", "titlePadding": 7, "titleOpacity": 0}},
            "y2": {"field": "hi"},
            "color": {"field": "s", "type": "nominal", "scale": {"domain": ["SOURCE", "MRT", "LRT"], "range": ["#000000", "#0000ff", "#ff0000"]}, "legend": null}
          }
        },
        {
          "data": {"name": "d"},
          "transform": [{"filter": "datum.p == 'LEV1'"}],
          "mark": {"type": "tick", "orient": "horizontal", "size": 11, "thickness": 1.2, "clip": true},
          "encoding": {
            "x": {"field": "d", "type": "quantitative", "scale": {"type": "log", "domain": [0.01, 369]}, "axis": null},
            "y": {"field": "lo", "type": "quantitative", "scale": {"type": "log", "domain": [5e-5, 55]}, "axis": null},
            "color": {"field": "s", "type": "nominal", "scale": {"domain": ["SOURCE", "MRT", "LRT"], "range": ["#000000", "#0000ff", "#ff0000"]}, "legend": null}
          }
        },
        {
          "data": {"name": "d"},
          "transform": [{"filter": "datum.p == 'LEV1'"}],
          "mark": {"type": "tick", "orient": "horizontal", "size": 11, "thickness": 1.2, "clip": true},
          "encoding": {
            "x": {"field": "d", "type": "quantitative", "scale": {"type": "log", "domain": [0.01, 369]}, "axis": null},
            "y": {"field": "hi", "type": "quantitative", "scale": {"type": "log", "domain": [5e-5, 55]}, "axis": null},
            "color": {"field": "s", "type": "nominal", "scale": {"domain": ["SOURCE", "MRT", "LRT"], "range": ["#000000", "#0000ff", "#ff0000"]}, "legend": null}
          }
        },
        {
          "data": {"name": "d"},
          "transform": [{"filter": "datum.p == 'LEV1'"}],
          "mark": {"type": "line", "strokeWidth": 5, "interpolate": "monotone", "strokeCap": "round", "strokeJoin": "round", "clip": true},
          "encoding": {
            "x": {"field": "d", "type": "quantitative", "scale": {"type": "log", "domain": [0.01, 369]},
              "axis": {"orient": "top", "values": [0.01,0.02,0.03,0.04,0.05,0.06,0.07,0.08,0.09,0.1,0.2,0.3,0.4,0.5,0.6,0.7,0.8,0.9,1,2,3,4,5,6,7,8,9,10,20,30,40,50,60,70,80,90,100,200,300], "labels": false, "title": null, "tickSize": {"condition": {"test": "indexof([0.01,0.1,1,10,100], datum.value) >= 0", "value": -13}, "value": -7}}},
            "y": {"field": "v", "type": "quantitative", "scale": {"type": "log", "domain": [5e-5, 55]}, "axis": null},
            "color": {"field": "s", "type": "nominal", "scale": {"domain": ["SOURCE", "MRT", "LRT"], "range": ["#000000", "#0000ff", "#ff0000"]},
              "legend": {"orient": "none", "legendX": 265, "legendY": 260, "title": null, "padding": 0, "symbolType": "stroke", "symbolStrokeWidth": 5, "symbolSize": 1225, "labelFontSize": 23, "labelFont": "DejaVu Sans", "labelColor": "black", "labelOffset": 2, "rowPadding": 0, "clipHeight": 29}}
          }
        },
        {
          "data": {"name": "lab1"},
          "mark": {"type": "text", "align": "left", "baseline": "middle", "fontSize": 26, "font": "DejaVu Sans", "color": "black"},
          "encoding": {
            "x": {"datum": 0.0186, "type": "quantitative", "scale": {"type": "log", "domain": [0.01, 369]}, "axis": null},
            "y": {"datum": 8, "type": "quantitative", "scale": {"type": "log", "domain": [5e-5, 55]}, "axis": null},
            "text": {"field": "label"}
          }
        }
      ]
    },
    {
      "width": 491, "height": 375,
      "resolve": {"axis": {"x": "independent", "y": "independent"}},
      "layer": [
        {
          "data": {"name": "d"},
          "transform": [{"filter": "datum.p == 'LEV2a'"}],
          "mark": {"type": "rule", "strokeWidth": 1.2, "clip": true},
          "encoding": {
            "x": {"field": "d", "type": "quantitative", "scale": {"type": "log", "domain": [0.01, 369]},
              "axis": {"orient": "bottom", "values": [0.01,0.02,0.03,0.04,0.05,0.06,0.07,0.08,0.09,0.1,0.2,0.3,0.4,0.5,0.6,0.7,0.8,0.9,1,2,3,4,5,6,7,8,9,10,20,30,40,50,60,70,80,90,100,200,300], "labels": false, "title": null, "tickSize": {"condition": {"test": "indexof([0.01,0.1,1,10,100], datum.value) >= 0", "value": -13}, "value": -7}}},
            "y": {"field": "lo", "type": "quantitative", "scale": {"type": "log", "domain": [5e-5, 55]},
              "axis": {"orient": "left", "values": [5e-5,6e-5,7e-5,8e-5,9e-5,1e-4,2e-4,3e-4,4e-4,5e-4,6e-4,7e-4,8e-4,9e-4,0.001,0.002,0.003,0.004,0.005,0.006,0.007,0.008,0.009,0.01,0.02,0.03,0.04,0.05,0.06,0.07,0.08,0.09,0.1,0.2,0.3,0.4,0.5,0.6,0.7,0.8,0.9,1,2,3,4,5,6,7,8,9,10,20,30,40,50], "labelExpr": "indexof([0.0001,0.001,0.01,0.1,1,10], datum.value) >= 0 ? format(datum.value, '~g') : ''", "labelFontSize": {"condition": {"test": "indexof([0.0001,0.001,0.01,0.1,1,10], datum.value) >= 0", "value": 24}, "value": 0}, "labelPadding": 18, "labelOverlap": false, "labelBound": false, "labelFlush": false, "tickSize": {"condition": {"test": "indexof([0.0001,0.001,0.01,0.1,1,10], datum.value) >= 0", "value": -13}, "value": -7}, "title": "dV/dlogD (normalized)", "titleFontSize": 30, "titleFontWeight": "normal", "titlePadding": 7}},
            "y2": {"field": "hi"},
            "color": {"field": "s", "type": "nominal", "scale": {"domain": ["SOURCE", "MRT", "LRT"], "range": ["#000000", "#0000ff", "#ff0000"]}, "legend": null}
          }
        },
        {
          "data": {"name": "d"},
          "transform": [{"filter": "datum.p == 'LEV2a'"}],
          "mark": {"type": "tick", "orient": "horizontal", "size": 11, "thickness": 1.2, "clip": true},
          "encoding": {
            "x": {"field": "d", "type": "quantitative", "scale": {"type": "log", "domain": [0.01, 369]}, "axis": null},
            "y": {"field": "lo", "type": "quantitative", "scale": {"type": "log", "domain": [5e-5, 55]}, "axis": null},
            "color": {"field": "s", "type": "nominal", "scale": {"domain": ["SOURCE", "MRT", "LRT"], "range": ["#000000", "#0000ff", "#ff0000"]}, "legend": null}
          }
        },
        {
          "data": {"name": "d"},
          "transform": [{"filter": "datum.p == 'LEV2a'"}],
          "mark": {"type": "tick", "orient": "horizontal", "size": 11, "thickness": 1.2, "clip": true},
          "encoding": {
            "x": {"field": "d", "type": "quantitative", "scale": {"type": "log", "domain": [0.01, 369]}, "axis": null},
            "y": {"field": "hi", "type": "quantitative", "scale": {"type": "log", "domain": [5e-5, 55]}, "axis": null},
            "color": {"field": "s", "type": "nominal", "scale": {"domain": ["SOURCE", "MRT", "LRT"], "range": ["#000000", "#0000ff", "#ff0000"]}, "legend": null}
          }
        },
        {
          "data": {"name": "d"},
          "transform": [{"filter": "datum.p == 'LEV2a'"}],
          "mark": {"type": "line", "strokeWidth": 5, "interpolate": "monotone", "strokeCap": "round", "strokeJoin": "round", "clip": true},
          "encoding": {
            "x": {"field": "d", "type": "quantitative", "scale": {"type": "log", "domain": [0.01, 369]}, "axis": null},
            "y": {"field": "v", "type": "quantitative", "scale": {"type": "log", "domain": [5e-5, 55]}, "axis": null},
            "color": {"field": "s", "type": "nominal", "scale": {"domain": ["SOURCE", "MRT", "LRT"], "range": ["#000000", "#0000ff", "#ff0000"]}, "legend": null}
          }
        },
        {
          "data": {"name": "lab2"},
          "mark": {"type": "text", "align": "left", "baseline": "middle", "fontSize": 26, "font": "DejaVu Sans", "color": "black"},
          "encoding": {
            "x": {"datum": 0.0186, "type": "quantitative", "scale": {"type": "log", "domain": [0.01, 369]}, "axis": null},
            "y": {"datum": 8.3, "type": "quantitative", "scale": {"type": "log", "domain": [5e-5, 55]}, "axis": null},
            "text": {"field": "label"}
          }
        }
      ]
    },
    {
      "width": 491, "height": 375,
      "resolve": {"axis": {"x": "independent", "y": "independent"}},
      "layer": [
        {
          "data": {"name": "d"},
          "transform": [{"filter": "datum.p == 'LEV2b'"}],
          "mark": {"type": "rule", "strokeWidth": 1.2, "clip": true},
          "encoding": {
            "x": {"field": "d", "type": "quantitative", "scale": {"type": "log", "domain": [0.01, 369]},
              "axis": {"orient": "bottom", "values": [0.01,0.02,0.03,0.04,0.05,0.06,0.07,0.08,0.09,0.1,0.2,0.3,0.4,0.5,0.6,0.7,0.8,0.9,1,2,3,4,5,6,7,8,9,10,20,30,40,50,60,70,80,90,100,200,300], "labelExpr": "indexof([0.01,0.1,1,10,100], datum.value) >= 0 ? format(datum.value, '~g') : ''", "labelFontSize": 24, "labelPadding": 19, "labelOverlap": false, "labelBound": false, "labelFlush": false, "tickSize": {"condition": {"test": "indexof([0.01,0.1,1,10,100], datum.value) >= 0", "value": -13}, "value": -7}, "title": "Diameter (µm)", "titleFontSize": 30, "titleFontWeight": "normal", "titlePadding": 4}},
            "y": {"field": "lo", "type": "quantitative", "scale": {"type": "log", "domain": [5e-5, 55]},
              "axis": {"orient": "left", "values": [5e-5,6e-5,7e-5,8e-5,9e-5,1e-4,2e-4,3e-4,4e-4,5e-4,6e-4,7e-4,8e-4,9e-4,0.001,0.002,0.003,0.004,0.005,0.006,0.007,0.008,0.009,0.01,0.02,0.03,0.04,0.05,0.06,0.07,0.08,0.09,0.1,0.2,0.3,0.4,0.5,0.6,0.7,0.8,0.9,1,2,3,4,5,6,7,8,9,10,20,30,40,50], "labelExpr": "indexof([0.0001,0.001,0.01,0.1,1,10], datum.value) >= 0 ? format(datum.value, '~g') : ''", "labelFontSize": {"condition": {"test": "indexof([0.0001,0.001,0.01,0.1,1,10], datum.value) >= 0", "value": 24}, "value": 0}, "labelPadding": 18, "labelOverlap": false, "labelBound": false, "labelFlush": false, "tickSize": {"condition": {"test": "indexof([0.0001,0.001,0.01,0.1,1,10], datum.value) >= 0", "value": -13}, "value": -7}, "title": "dV/dlogD (normalized)", "titleFontSize": 30, "titleFontWeight": "normal", "titlePadding": 7, "titleOpacity": 0}},
            "y2": {"field": "hi"},
            "color": {"field": "s", "type": "nominal", "scale": {"domain": ["SOURCE", "MRT", "LRT"], "range": ["#000000", "#0000ff", "#ff0000"]}, "legend": null}
          }
        },
        {
          "data": {"name": "d"},
          "transform": [{"filter": "datum.p == 'LEV2b'"}],
          "mark": {"type": "tick", "orient": "horizontal", "size": 11, "thickness": 1.2, "clip": true},
          "encoding": {
            "x": {"field": "d", "type": "quantitative", "scale": {"type": "log", "domain": [0.01, 369]}, "axis": null},
            "y": {"field": "lo", "type": "quantitative", "scale": {"type": "log", "domain": [5e-5, 55]}, "axis": null},
            "color": {"field": "s", "type": "nominal", "scale": {"domain": ["SOURCE", "MRT", "LRT"], "range": ["#000000", "#0000ff", "#ff0000"]}, "legend": null}
          }
        },
        {
          "data": {"name": "d"},
          "transform": [{"filter": "datum.p == 'LEV2b'"}],
          "mark": {"type": "tick", "orient": "horizontal", "size": 11, "thickness": 1.2, "clip": true},
          "encoding": {
            "x": {"field": "d", "type": "quantitative", "scale": {"type": "log", "domain": [0.01, 369]}, "axis": null},
            "y": {"field": "hi", "type": "quantitative", "scale": {"type": "log", "domain": [5e-5, 55]}, "axis": null},
            "color": {"field": "s", "type": "nominal", "scale": {"domain": ["SOURCE", "MRT", "LRT"], "range": ["#000000", "#0000ff", "#ff0000"]}, "legend": null}
          }
        },
        {
          "data": {"name": "d"},
          "transform": [{"filter": "datum.p == 'LEV2b'"}],
          "mark": {"type": "line", "strokeWidth": 5, "interpolate": "monotone", "strokeCap": "round", "strokeJoin": "round", "clip": true},
          "encoding": {
            "x": {"field": "d", "type": "quantitative", "scale": {"type": "log", "domain": [0.01, 369]}, "axis": null},
            "y": {"field": "v", "type": "quantitative", "scale": {"type": "log", "domain": [5e-5, 55]}, "axis": null},
            "color": {"field": "s", "type": "nominal", "scale": {"domain": ["SOURCE", "MRT", "LRT"], "range": ["#000000", "#0000ff", "#ff0000"]}, "legend": null}
          }
        },
        {
          "data": {"name": "lab3"},
          "mark": {"type": "text", "align": "left", "baseline": "middle", "fontSize": 26, "font": "DejaVu Sans", "color": "black"},
          "encoding": {
            "x": {"datum": 0.0186, "type": "quantitative", "scale": {"type": "log", "domain": [0.01, 369]}, "axis": null},
            "y": {"datum": 8.3, "type": "quantitative", "scale": {"type": "log", "domain": [5e-5, 55]}, "axis": null},
            "text": {"field": "label"}
          }
        }
      ]
    }
  ]
}
